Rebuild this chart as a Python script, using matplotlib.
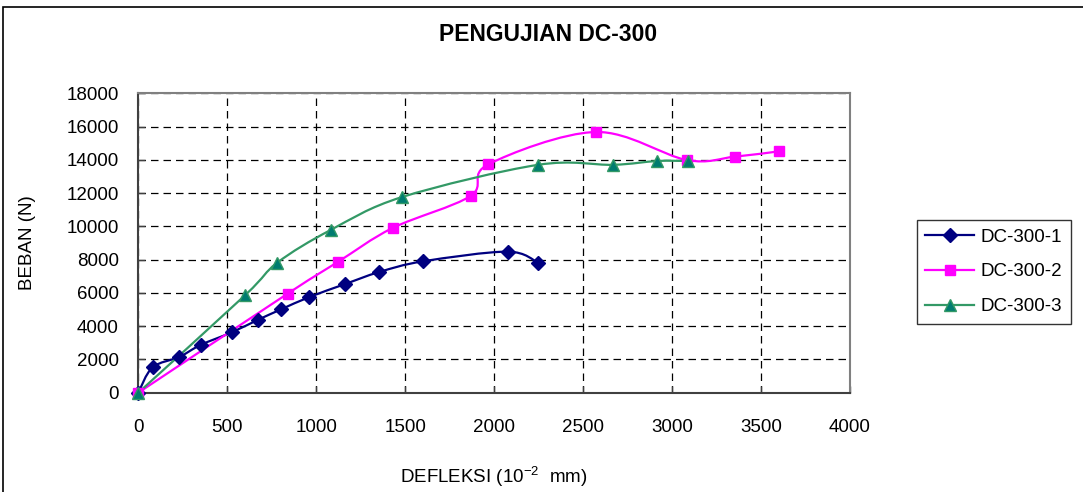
import numpy as np
import matplotlib.pyplot as plt
from matplotlib.path import Path
from matplotlib.patches import PathPatch, Rectangle

plt.rcParams['font.family'] = ['Liberation Sans', 'DejaVu Sans']
plt.rcParams['mathtext.fontset'] = 'custom'
plt.rcParams['mathtext.rm'] = 'Liberation Sans'

# data
x1 = [0, 80, 230, 350, 525, 674, 802, 961, 1163, 1354, 1601, 2075, 2247]
y1 = [0, 1520, 2150, 2870, 3630, 4390, 5010, 5750, 6535, 7256, 7900, 8480, 7816]

x2 = [0, 839, 1124, 1429, 1867, 1968, 2571, 3081, 3352, 3601]
y2 = [0, 5954, 7878, 9902, 11826, 13731, 15673, 13990, 14189, 14512]

x3 = [0, 599, 781, 1081, 1483, 2247, 2669, 2916, 3087]
y3 = [0, 5850, 7816, 9782, 11766, 13700, 13700, 13930, 13930]

labels = ['DC-300-1', 'DC-300-2', 'DC-300-3']


def smooth_path(xs, ys, t=1/6):
    # excel style smoothed line: bezier through every point
    p = np.column_stack([xs, ys]).astype(float)
    verts = [p[0]]
    codes = [Path.MOVETO]
    n = len(p)
    for i in range(n - 1):
        p0 = p[i - 1] if i > 0 else p[i]
        p3 = p[i + 2] if i + 2 < n else p[i + 1]
        c1 = p[i] + (p[i + 1] - p0) * t
        c2 = p[i + 1] - (p3 - p[i]) * t
        verts += [c1, c2, p[i + 1]]
        codes += [Path.CURVE4] * 3
    return Path(verts, codes)


fig = plt.figure(figsize=(10.83, 4.92), dpi=100)
ax = fig.add_axes([0.1277, 0.2018, 0.6572, 0.6086])

series = [
    (x1, y1, '#000080', 'D', '#000080', '#000080', 7),
    (x2, y2, '#FF00FF', 's', '#FF00FF', '#FF00FF', 7),
    (x3, y3, '#339966', '^', '#007C70', '#339966', 8),
]
for (xs, ys, c, m, fc, ec, ms), lab in zip(series, labels):
    ax.add_patch(PathPatch(smooth_path(xs, ys), fill=False, edgecolor=c, lw=1.6, zorder=3))
    ax.plot(xs, ys, ls='none', marker=m, ms=ms, mfc=fc, mec=ec, zorder=4, clip_on=False)
    ax.plot([], [], color=c, lw=1.6, marker=m, ms=ms, mfc=fc, mec=ec, label=lab)

ax.set_xlim(0, 4000)
ax.set_ylim(0, 18000)
ax.set_xticks(np.arange(0, 4001, 500))
ax.set_yticks(np.arange(0, 18001, 2000))
ax.grid(True, color='black', ls=(0, (6, 4)), lw=0.9)
ax.tick_params(labelsize=13.5, direction='in', length=5, width=1, color='#404040')
ax.tick_params(axis='x', pad=19)
ax.tick_params(axis='y', pad=14)

for s in ['top', 'right']:
    ax.spines[s].set_color('#808080')
    ax.spines[s].set_linewidth(1.5)
for s in ['left', 'bottom']:
    ax.spines[s].set_color('#404040')
    ax.spines[s].set_linewidth(1.5)

ax.set_xlabel('DEFLEKSI (10$^{-2}$  mm)', fontsize=13.5, labelpad=20)
ax.set_ylabel('BEBAN (N)', fontsize=13.5, labelpad=22)
fig.text(0.506, 0.929, 'PENGUJIAN DC-300', ha='center', va='center',
         fontsize=16.5, fontweight='bold')

leg = fig.legend(loc='upper left', bbox_to_anchor=(917 / 1083, 1 - 220 / 492),
                 borderaxespad=0, fontsize=13.5, frameon=True, fancybox=False,
                 edgecolor='black', handlelength=2.6, handletextpad=0.35,
                 labelspacing=0.95, borderpad=0.45)
leg.get_frame().set_linewidth(1.0)

fig.patches.append(Rectangle((3 / 1083, -0.1), 1.2, (492 - 7) / 492 + 0.1,
                             transform=fig.transFigure, fill=False,
                             edgecolor='black', lw=1.2))

fig.savefig('out.png', dpi=100)
